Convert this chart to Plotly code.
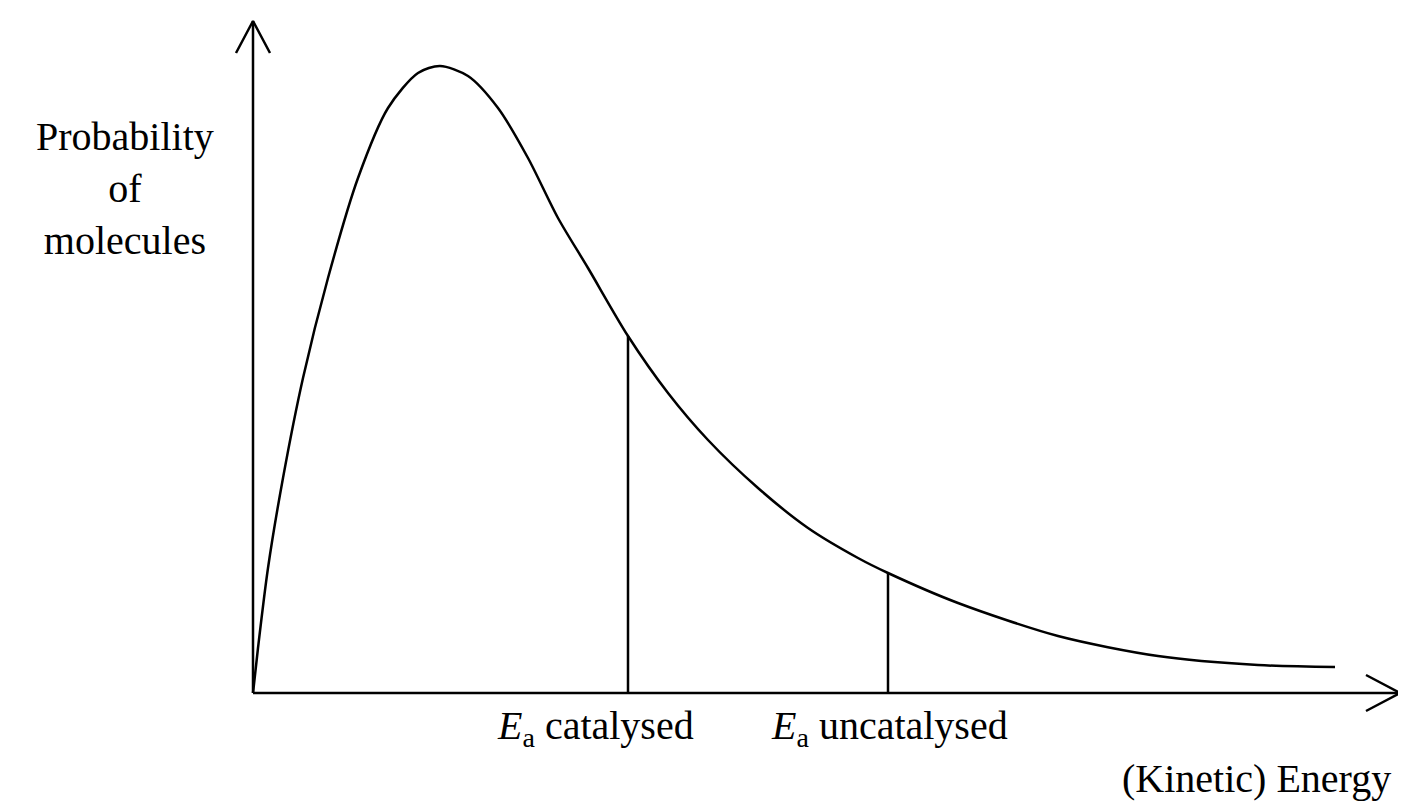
import plotly.graph_objects as go

# energy (x) and probability (y), in chart units
energy = [0, 5, 15, 30, 50, 75, 105, 135, 165, 187, 215, 245, 275, 305, 335, 375, 415, 455, 505, 555, 605, 635, 705, 805, 905, 1005, 1082]
prob = [0, 45, 125, 215, 315, 415, 515, 585, 620, 627, 617, 585, 535, 475, 425, 357, 300, 253, 205, 165, 135, 120, 90, 57, 37, 28, 26]
ea_cat = 375
ea_uncat = 635
ea_cat_h = 357
ea_uncat_h = 120

BLK = "black"
F = "Times New Roman, Liberation Serif, serif"
fig = go.Figure()
fig.add_trace(go.Scatter(x=energy, y=prob, mode="lines", line=dict(color=BLK, width=2.5, shape="spline", smoothing=0.8)))
for xv, h in [(ea_cat, ea_cat_h), (ea_uncat, ea_uncat_h)]:
    fig.add_trace(go.Scatter(x=[xv, xv], y=[0, h], mode="lines", line=dict(color=BLK, width=2.5)))
# axes with open arrowheads
fig.add_trace(go.Scatter(x=[0, 0], y=[0, 672], mode="lines", line=dict(color=BLK, width=2.5)))
fig.add_trace(go.Scatter(x=[-17, 0, 17], y=[640, 672, 640], mode="lines", line=dict(color=BLK, width=2.5)))
fig.add_trace(go.Scatter(x=[0, 1147], y=[0, 0], mode="lines", line=dict(color=BLK, width=2.5)))
fig.add_trace(go.Scatter(x=[1113, 1147, 1113], y=[18, 0, -18], mode="lines", line=dict(color=BLK, width=2.5)))

ann = [
    dict(x=-128, y=505, text="Probability<br>of<br>molecules", xanchor="center", yanchor="middle"),
    dict(x=ea_cat - 33, y=-35, text="<i>E</i><sub>a</sub> catalysed", xanchor="center", yanchor="middle"),
    dict(x=ea_uncat + 1, y=-35, text="<i>E</i><sub>a</sub> uncatalysed", xanchor="center", yanchor="middle"),
    dict(x=1140, y=-85, text="(Kinetic) Energy", xanchor="right", yanchor="middle"),
]
for a in ann:
    a.update(showarrow=False, xref="x", yref="y", font=dict(family=F, size=40, color=BLK))
fig.update_layout(
    width=1406, height=802, margin=dict(l=0, r=0, t=0, b=0, pad=0, autoexpand=False),
    paper_bgcolor="white", plot_bgcolor="white", showlegend=False,
    xaxis=dict(range=[-245, 1161], visible=False, fixedrange=True),
    yaxis=dict(range=[-117, 685], visible=False, fixedrange=True),
    annotations=ann,
)
fig.write_html("out.html", config={"displayModeBar": False})
